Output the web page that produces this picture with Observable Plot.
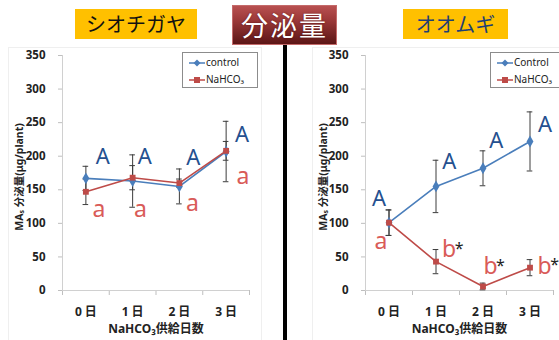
<!DOCTYPE html>
<html>
<head>
<meta charset="utf-8">
<script src="https://cdn.jsdelivr.net/npm/d3@7"></script>
<script src="https://cdn.jsdelivr.net/npm/@observablehq/plot@0.6"></script>
<style>
  body { margin: 0; background: #fff; }
  #wrap { position: relative; width: 559px; height: 340px; overflow: hidden;
          font-family: "Noto Sans", "Noto Sans CJK JP", sans-serif; color: #222; }
  .abs { position: absolute; }
  .area { position: absolute; border: 1px solid #efefef; border-bottom: none; }
  .tag { position: absolute; top: 9px; height: 30px; background: #ffc000;
         font-family: "Noto Sans CJK JP", sans-serif; font-size: 20px; line-height: 30px;
         text-align: center; }
  #banner { left: 232px; top: 5px; width: 105px; height: 40px;
            background: linear-gradient(to bottom, #b85050 0%, #9e3a3a 35%, #7a2626 70%, #5c1616 100%);
            border: 1px solid #c46a6a; box-sizing: border-box;
            color: #fff; font-family: "Noto Sans CJK JP", sans-serif; font-size: 27px;
            line-height: 38px; text-align: center; letter-spacing: 2px;
            text-shadow: 0 0 2px rgba(60,0,0,0.6); z-index: 3; }
  #divider { left: 283px; top: 45px; width: 4px; height: 295px; background: #000; z-index: 3; }
  .ytitle { position: absolute; transform: translate(-50%, -50%) rotate(-90deg);
            white-space: nowrap; font-size: 10.5px; font-weight: bold;
            font-family: "Noto Sans", "Noto Sans CJK JP", sans-serif; z-index: 2; }
  .ytitle sub { font-size: 7px; vertical-align: -1px; }
  .legend { position: absolute; top: 52px; height: 36px; background: #fff; border: 1px solid #8c8c8c;
            box-sizing: border-box; font-size: 10px; z-index: 2; }
  .legend div { position: absolute; left: 6px; height: 16px; line-height: 16px; white-space: nowrap; }
  .legend svg { vertical-align: middle; margin-right: 1px; }
  .chart { position: absolute; top: 0; z-index: 1; }
  .chart [aria-label$="-axis tick"] { stroke: #bfbfbf; }
  .chart .tick line { stroke: #bfbfbf; }
  .chart .domain { display: none; }
</style>
</head>
<body>
<div id="wrap">
  <div class="area" style="left:8px; top:47px; width:252px; height:300px;"></div>
  <div class="area" style="left:312px; top:47px; width:260px; height:300px;"></div>

  <div class="tag" style="left:75px; width:122px; color:#111;">シオチガヤ</div>
  <div class="tag" style="left:403px; width:105px; color:#1f3f74;">オオムギ</div>
  <div id="banner" class="abs">分泌量</div>
  <div id="divider" class="abs"></div>

  <div class="ytitle" style="left:18px; top:177px;">MA<sub>s</sub> 分泌量(μg/plant)</div>
  <div class="ytitle" style="left:322px; top:177px;">MA<sub>s</sub> 分泌量(μg/plant)</div>

  <div id="chartL" class="chart" style="left:0px;"></div>
  <div id="chartR" class="chart" style="left:303px;"></div>

  <div class="legend" style="left:182px; width:76px;">
    <div style="top:1px;"><svg width="16" height="8"><line x1="0" x2="16" y1="4" y2="4" stroke="#4a7ebb" stroke-width="1.5"/><path d="M8,0.5L11.5,4L8,7.5L4.5,4Z" fill="#4a7ebb"/></svg>control</div>
    <div style="top:18px;"><svg width="16" height="8"><line x1="0" x2="16" y1="4" y2="4" stroke="#be4b48" stroke-width="1.5"/><rect x="5" y="1" width="6" height="6" fill="#be4b48"/></svg>NaHCO₃</div>
  </div>
  <div class="legend" style="left:490px; width:80px;">
    <div style="top:1px;"><svg width="16" height="8"><line x1="0" x2="16" y1="4" y2="4" stroke="#4a7ebb" stroke-width="1.5"/><path d="M8,0.5L11.5,4L8,7.5L4.5,4Z" fill="#4a7ebb"/></svg>Control</div>
    <div style="top:18px;"><svg width="16" height="8"><line x1="0" x2="16" y1="4" y2="4" stroke="#be4b48" stroke-width="1.5"/><rect x="5" y="1" width="6" height="6" fill="#be4b48"/></svg>NaHCO₃</div>
  </div>
</div>

<script>
// Days of NaHCO3 supply (x categories)
const days = ["0 日", "1 日", "2 日", "3 日"];
const yTicks = [0, 50, 100, 150, 200, 250, 300, 350];

// シオチガヤ: MA secretion (μg/plant), mean and error
const grassCtrl = [167, 163, 155, 207];
const grassCtrlErr = [18, 39, 26, 45];
const grassNa = [147, 168, 160, 208];
const grassNaErr = [19, 18, 6, 14];
const grassCtrlTags = ["A", "A", "A", "A"];
const grassNaTags = ["a", "a", "a", "a"];
const grassNaStars = ["", "", "", ""];

// オオムギ: MA secretion (μg/plant), mean and error
const barleyCtrl = [101, 155, 182, 222];
const barleyCtrlErr = [19, 39, 26, 44];
const barleyNa = [101, 43, 6, 34];
const barleyNaErr = [19, 18, 5, 12];
const barleyCtrlTags = ["A", "A", "A", "A"];
const barleyNaTags = ["a", "b", "b", "b"];
const barleyNaStars = ["", "*", "*", "*"];

// Placement of the significance letters (value height, shift in days)
const grassLayout = {
  ctrlTagY: [199, 199, 198, 231], ctrlTagShift: [0.36, 0.26, 0.30, 0.34],
  naTagY: [120, 120, 130, 169], naTagShift: [0.28, 0.17, 0.28, 0.36]
};
const barleyLayout = {
  ctrlTagY: [137, 192, 223, 246], ctrlTagShift: [-0.21, 0.28, 0.28, 0.32],
  naTagY: [73, 61, 35, 36], naTagShift: [-0.17, 0.28, 0.16, 0.31]
};

const BLUE = "#4a7ebb", RED = "#be4b48", TAG_BLUE = "#24508f", TAG_RED = "#d95b58";

function chart({ctrl, ctrlErr, na, naErr, ctrlTags, naTags, naStars, layout, width, marginRight}) {
  const idx = days.map((_, i) => i);
  const series = [
    {vals: ctrl, err: ctrlErr},
    {vals: na, err: naErr}
  ];
  const bars = series.flatMap((s, k) => idx.map(i => ({k, i, lo: s.vals[i] - s.err[i], hi: s.vals[i] + s.err[i]})));
  const caps = bars.flatMap(b => [{i: b.i, y: b.lo}, {i: b.i, y: b.hi}]);
  const capHalf = 0.06;
  const font = "'Noto Sans', 'Noto Sans CJK JP', sans-serif";

  return Plot.plot({
    width, height: 340,
    marginLeft: 62, marginRight, marginTop: 55, marginBottom: 50,
    style: {fontFamily: font, fontSize: "11.5px", fontWeight: "bold", color: "#222", background: "transparent", overflow: "visible"},
    x: {domain: [-0.5, 3.5], ticks: [-0.5, 0.5, 1.5, 2.5, 3.5], tickFormat: () => "", tickSize: 5, label: null},
    y: {domain: [0, 350], ticks: yTicks, tickSize: 4, tickPadding: 13, label: null},
    marks: [
      // axis lines
      Plot.ruleX([-0.5], {stroke: "#d0d0d0"}),
      Plot.ruleY([0], {stroke: "#d0d0d0"}),
      // category labels and axis title
      Plot.text(idx, {x: i => i, y: () => 0, text: i => days[i], dy: 22, fontSize: 12, fontWeight: "bold", fill: "#222"}),
      Plot.text(["NaHCO₃供給日数"], {frameAnchor: "bottom", lineAnchor: "middle", dy: 39, fontSize: 12, fontWeight: "bold", fill: "#222"}),
      // error bars
      Plot.ruleX(bars, {x: "i", y1: "lo", y2: "hi", stroke: "#3c3c3c", strokeWidth: 1}),
      Plot.ruleY(caps, {y: "y", x1: d => d.i - capHalf, x2: d => d.i + capHalf, stroke: "#3c3c3c", strokeWidth: 1}),
      // series
      Plot.line(idx, {x: i => i, y: i => ctrl[i], stroke: BLUE, strokeWidth: 1.6}),
      Plot.dot(idx, {x: i => i, y: i => ctrl[i], symbol: "diamond", r: 3.6, fill: BLUE}),
      Plot.line(idx, {x: i => i, y: i => na[i], stroke: RED, strokeWidth: 1.6}),
      Plot.dot(idx, {x: i => i, y: i => na[i], symbol: "square", r: 3.3, fill: RED}),
      // significance letters
      Plot.text(idx, {x: i => i + layout.ctrlTagShift[i], y: i => layout.ctrlTagY[i], text: i => ctrlTags[i],
        fontSize: 22, fontWeight: "normal", fill: TAG_BLUE}),
      Plot.text(idx, {x: i => i + layout.naTagShift[i], y: i => layout.naTagY[i], text: i => naTags[i],
        fontSize: 23, fontWeight: "normal", fill: TAG_RED}),
      Plot.text(idx, {x: i => i + layout.naTagShift[i], y: i => layout.naTagY[i], text: i => naStars[i],
        dx: 10, dy: -1, fontSize: 16, fontWeight: "normal", fill: "#222"})
    ]
  });
}

document.getElementById("chartL").append(chart({
  ctrl: grassCtrl, ctrlErr: grassCtrlErr, na: grassNa, naErr: grassNaErr,
  ctrlTags: grassCtrlTags, naTags: grassNaTags, naStars: grassNaStars,
  layout: grassLayout, width: 280, marginRight: 31
}));
document.getElementById("chartR").append(chart({
  ctrl: barleyCtrl, ctrlErr: barleyCtrlErr, na: barleyNa, naErr: barleyNaErr,
  ctrlTags: barleyCtrlTags, naTags: barleyNaTags, naStars: barleyNaStars,
  layout: barleyLayout, width: 256, marginRight: 6
}));
</script>
</body>
</html>
